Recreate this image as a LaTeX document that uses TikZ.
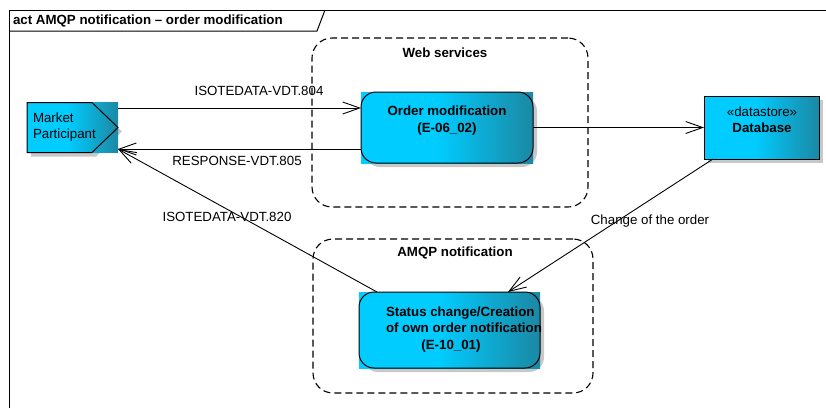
\documentclass[tikz,border=0pt]{standalone}
\usepackage{fontspec}
\setmainfont{Liberation Sans}
\usetikzlibrary{arrows.meta,backgrounds}
\definecolor{eacyan}{RGB}{0,204,255}
\definecolor{eadark}{RGB}{27,136,164}
\definecolor{eashadow}{RGB}{200,200,200}
\pgfdeclarehorizontalshading{eashade}{100bp}{color(0bp)=(eacyan); color(47bp)=(eacyan); color(75bp)=(eadark); color(100bp)=(eadark)}
\begin{document}
\begin{tikzpicture}[x=1pt,y=-1pt,
  font=\fontsize{13.3}{16}\selectfont,
  inner sep=0pt, outer sep=0pt,
  elem/.style={shade, shading=eashade, draw=none},
  outl/.style={draw=black, line width=1pt},
  grp/.style={draw=black, dashed, dash pattern=on 7pt off 4pt, line width=1.1pt, rounded corners=20pt},
  conn/.style={draw=black, line width=0.9pt, -{Straight Barb[length=17pt,width=12pt,line width=0.9pt]}},
  lbl/.style={font=\fontsize{13.3}{16}\selectfont},
  ttl/.style={font=\fontsize{13.3}{16}\selectfont\bfseries}]
\useasboundingbox (0,0) rectangle (826,408);

% frame
\draw[line width=1pt] (9,408) -- (9,10) -- (826,10);
\draw[line width=1pt] (9,31) -- (317,31) -- (325,10);
\node[ttl, anchor=west] (title) at (13,20.5) {act AMQP notification -- order modification};

% groups
\node[grp, minimum width=276, minimum height=169] (ws) at (450,122.5) {};
\node[ttl] (wslbl) at (445,53) {Web services};
\node[grp, minimum width=280, minimum height=154] (aq) at (453,316) {};
\node[ttl] (aqlbl) at (455,253) {AMQP notification};

% elements
\node[elem, minimum width=91, minimum height=50] (mp) at (72.5,127.5) {};
\node[elem, minimum width=172, minimum height=71] (om) at (447,127.5) {};
\node[elem, minimum width=115, minimum height=63] (db) at (761.5,127.5) {};
\node[elem, minimum width=181, minimum height=76] (st) at (449.5,330) {};

\begin{scope}[on background layer]
  \fill[eashadow] ([shift={(4,4)}]mp.north west) -- ([shift={(-22,4)}]mp.north east) -- ([shift={(4,4)}]mp.east) -- ([shift={(-22,4)}]mp.south east) -- ([shift={(4,4)}]mp.south west) -- cycle;
  \fill[eashadow, rounded corners=15pt] ([shift={(4,4)}]om.north west) rectangle ([shift={(4,4)}]om.south east);
  \fill[eashadow] ([shift={(4,4)}]db.north west) rectangle ([shift={(4,4)}]db.south east);
  \fill[eashadow, rounded corners=15pt] ([shift={(4,4)}]st.north west) rectangle ([shift={(4,4)}]st.south east);
\end{scope}

% outlines
\draw[outl] (mp.north west) -- ([xshift=-26]mp.north east) -- (mp.east) -- ([xshift=-26]mp.south east) -- (mp.south west) -- cycle;
\draw[outl, rounded corners=15pt] (om.north west) rectangle (om.south east);
\draw[outl] (db.north west) rectangle (db.south east);
\draw[outl, rounded corners=15pt] (st.north west) rectangle (st.south east);

% texts
\node[lbl, anchor=west, align=left] (mptext) at (33,127) {Market\\Participant};
\node[ttl] (omt1) at (447,111) {Order modification};
\node[ttl] (omt2) at (447,129) {(E-06\_02)};
\node[lbl] (dbt1) at (762,112) {«datastore»};
\node[ttl] (dbt2) at (762,128) {Database};
\node[ttl, anchor=west, align=left, font=\fontsize{13.3}{15.5}\selectfont\bfseries] (stt1) at (386,319.5) {Status change/Creation\\of own order notification};
\node[ttl] (stt2) at (451,346) {(E-10\_01)};

% connector labels
\node[lbl] (l804) at (259,91) {ISOTEDATA-VDT.804};
\node[lbl] (l805) at (237,161) {RESPONSE-VDT.805};
\node[lbl] (l820) at (227,217) {ISOTEDATA-VDT.820};
\node[lbl] (lchg) at (650,221) {Change of the order};

% connectors
\draw[conn] ([yshift=19.5]mp.east) -- ([yshift=19.5]om.west);
\draw[conn] ([yshift=-21.5]om.west) -- ([yshift=-21.5]mp.east);
\draw[conn] ([xshift=18]st.north west) -- ([yshift=-21.5]mp.east);
\draw[conn] (om.east) -- (db.west);
\draw[conn] ([xshift=9]db.south west) -- ([xshift=-32]st.north east);
\end{tikzpicture}
\end{document}
